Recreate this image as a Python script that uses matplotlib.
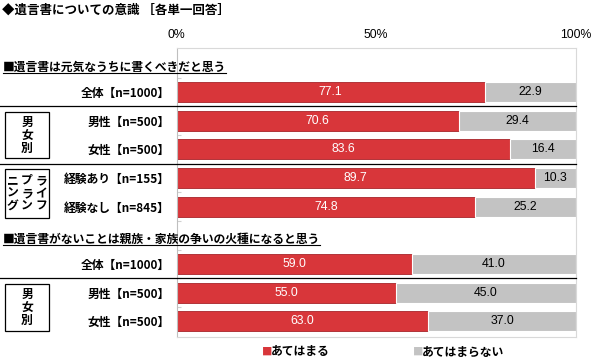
import matplotlib
matplotlib.use("Agg")
import matplotlib.pyplot as plt
from matplotlib.transforms import blended_transform_factory
from matplotlib.patches import Rectangle
from matplotlib.lines import Line2D

plt.rcParams['font.family'] = ['Noto Sans CJK JP', 'DejaVu Sans']

# ---- data ----
title = "◆遺言書についての意識 ［各単一回答］"
section_titles = ["■遺言書は元気なうちに書くべきだと思う",
                  "■遺言書がないことは親族・家族の争いの火種になると思う"]
row_labels = ["全体【n=1000】", "男性【n=500】", "女性【n=500】",
              "経験あり【n=155】", "経験なし【n=845】",
              "全体【n=1000】", "男性【n=500】", "女性【n=500】"]
yes_values = [77.1, 70.6, 83.6, 89.7, 74.8, 59.0, 55.0, 63.0]
no_values = [22.9, 29.4, 16.4, 10.3, 25.2, 41.0, 45.0, 37.0]
x_ticks = [0, 50, 100]
x_ticklabels = ["0%", "50%", "100%"]
legend_labels = ["あてはまる", "あてはまらない"]

# slot layout: header slots 0 and 6
row_slots = [1, 2, 3, 4, 5, 7, 8, 9]
header_slots = [0, 6]

RED = "#d8363a"
RED_EDGE = "#a8242a"
GRAY = "#c3c3c3"
NUMFONT = ['Liberation Sans', 'DejaVu Sans']

W, H = 600, 364
fig = plt.figure(figsize=(6, 3.64), dpi=100)
def fx(px): return px / W
def fy(py): return 1 - py / H

ax_left, ax_right, ax_top, ax_bottom = 176.5, 576.0, 48.0, 336.7
ax = fig.add_axes([fx(ax_left), fy(ax_bottom), fx(ax_right - ax_left), (ax_bottom - ax_top) / H])

bh = 0.70
b1 = ax.barh(row_slots, yes_values, height=bh, color=RED, edgecolor=RED_EDGE, linewidth=0.6)
b2 = ax.barh(row_slots, no_values, left=yes_values, height=bh, color=GRAY, edgecolor="white", linewidth=0.8)
ax.bar_label(b1, labels=[f"{v:.1f}" for v in yes_values], label_type='center', color='white',
             fontsize=8.8, family=NUMFONT)
ax.bar_label(b2, labels=[f"{v:.1f}" for v in no_values], label_type='center', color='black',
             fontsize=8.8, family=NUMFONT)

ax.set_xlim(0, 100)
ax.set_ylim(9.535, -0.535)
ax.xaxis.tick_top()
ax.set_xticks(x_ticks)
ax.set_xticklabels(x_ticklabels, fontsize=8.8, family=NUMFONT)
ax.tick_params(axis='x', length=0, pad=5)

ax.set_yticks(row_slots)
ax.set_yticklabels(row_labels, fontsize=8.5, fontweight='bold')
ax.tick_params(axis='y', which='major', length=0, pad=5)
ax.set_yticks([s + 0.5 for s in range(0, 9)], minor=True)
ax.tick_params(axis='y', which='minor', length=3, direction='in', color='#d0d0d0', width=0.8)

for side in ['top', 'right', 'bottom']:
    ax.spines[side].set_color('#d9d9d9')
    ax.spines[side].set_linewidth(0.8)
ax.spines['left'].set_color('#bfbfbf')
ax.spines['left'].set_linewidth(0.8)

# title
fig.text(fx(2), fy(10), title, fontsize=9, fontweight='bold', va='center', ha='left')

# section headers (underlined)
trans_fd = blended_transform_factory(fig.transFigure, ax.transData)
header_texts = []
for s, t in zip(header_slots, section_titles):
    ht = fig.text(fx(3), s + 0.15, t, transform=trans_fd, fontsize=8.5, fontweight='bold',
                  va='center', ha='left')
    header_texts.append(ht)

# separator lines
for s in [1.5, 3.5, 7.5]:
    fig.add_artist(Line2D([0, fx(ax_right)], [s, s], transform=trans_fd, color='black', linewidth=0.9))

# group boxes
def group_box(y0, y1, lines):
    fig.add_artist(Rectangle((fx(5), fy(y1)), fx(44), (y1 - y0) / H, transform=fig.transFigure,
                             fill=False, edgecolor='black', linewidth=0.9))
    n = len(lines)
    step = 13.0
    cy = (y0 + y1) / 2
    for i, line in enumerate(lines):
        yy = cy + (i - (n - 1) / 2) * step
        m = len(line)
        for j, ch in enumerate(line):
            xx = 27 + (j - (m - 1) / 2) * 14.5
            fig.text(fx(xx), fy(yy), ch, fontsize=8.5, fontweight='bold', ha='center', va='center')

group_box(112, 158, ["男", "女", "別"])
group_box(169, 218, ["ニプラ", "ンライ", "グンフ"])
group_box(284, 331, ["男", "女", "別"])

# legend
ly = 352
fig.text(fx(262), fy(ly), "■", color=RED, fontsize=7.5, ha='left', va='center')
fig.text(fx(271), fy(ly), legend_labels[0], fontsize=8.5, fontweight='bold', ha='left', va='center')
fig.text(fx(413), fy(ly), "■", color=GRAY, fontsize=7.5, ha='left', va='center')
fig.text(fx(422), fy(ly), legend_labels[1], fontsize=8.5, fontweight='bold', ha='left', va='center')

# underline headers
fig.canvas.draw()
r = fig.canvas.get_renderer()
for ht in header_texts:
    bb = ht.get_window_extent(r).transformed(fig.transFigure.inverted())
    fig.add_artist(Line2D([bb.x0, bb.x1], [bb.y0 + 0.002, bb.y0 + 0.002], transform=fig.transFigure,
                          color='black', linewidth=0.8))

fig.savefig("out.png", dpi=100)
